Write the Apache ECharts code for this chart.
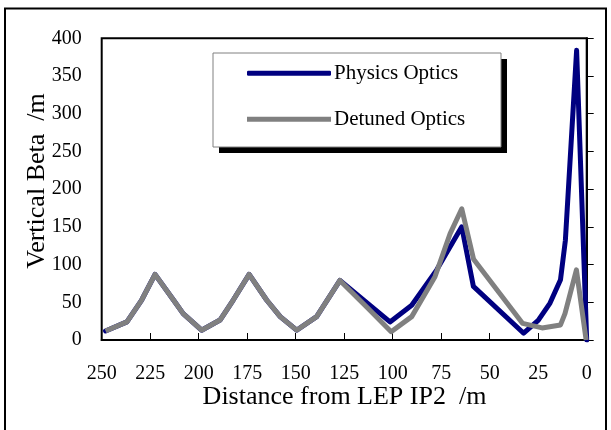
<!DOCTYPE html>
<html>
<head>
<meta charset="utf-8">
<script src="https://cdn.jsdelivr.net/npm/echarts@6/dist/echarts.min.js"></script>
<style>
html,body{margin:0;padding:0;background:#fff;}
#c{width:611px;height:430px;}
</style>
</head>
<body>
<div id="c"></div>
<script>
// Data
const seriesNames = ['Physics Optics', 'Detuned Optics'];
const physicsDist = [248, 237, 229.4, 222.5, 213, 208, 198.5, 189, 182.2, 174, 165, 158, 149.5, 139.2, 127.2, 101.4, 90.2, 77.3, 64.4, 58.4, 32.5, 25, 18.9, 13.5, 11, 5.2, 0];
const physicsBeta = [12, 24, 53, 87, 53, 35, 13, 26.5, 53, 87, 53, 31, 13, 31, 79, 24, 46, 93, 150, 71, 9, 26, 49, 80, 132, 384, 0];
const detunedDist = [248, 237, 229.4, 222.5, 213, 208, 198.5, 189, 182.2, 174, 165, 158, 149.5, 139.2, 127.2, 112, 100.8, 90.2, 78.2, 70.4, 64.4, 58.3, 33, 23, 13.5, 11.2, 5.3, 0.3];
const detunedBeta = [12, 24, 53, 87, 53, 35, 13, 26.5, 53, 87, 53, 31, 13, 31, 79, 40, 11, 31, 84, 141, 174, 107, 22, 16, 20, 35, 93, 0];
const xTicks = [0, 25, 50, 75, 100, 125, 150, 175, 200, 225, 250];
const yTicks = [0, 50, 100, 150, 200, 250, 300, 350, 400];

const serif = "'Liberation Serif', 'Times New Roman', 'DejaVu Serif', serif";
const pair = (xs, ys) => xs.map((x, i) => [x, ys[i]]);

const chart = echarts.init(document.getElementById('c'), null, {renderer: 'canvas'});
chart.setOption({
  animation: false,
  backgroundColor: '#fff',
  grid: {left: 101.7, right: 24.3, top: 38.3, bottom: 90, show: true, borderColor: '#000', borderWidth: 2, backgroundColor: 'transparent'},
  xAxis: {
    type: 'value', inverse: true,
    min: xTicks[0], max: xTicks[xTicks.length - 1], interval: 25,
    axisLine: {show: true, lineStyle: {color: '#000', width: 2}},
    axisTick: {show: true, inside: true, length: 7, lineStyle: {color: '#000', width: 1}},
    splitLine: {show: false},
    axisLabel: {margin: 24, color: '#000', fontSize: 20, fontFamily: serif}
  },
  yAxis: {
    type: 'value',
    min: yTicks[0], max: yTicks[yTicks.length - 1], interval: 50,
    axisLine: {show: true, lineStyle: {color: '#000', width: 2}},
    axisTick: {show: true, inside: true, length: 7, lineStyle: {color: '#000', width: 1}},
    splitLine: {show: false},
    axisLabel: {margin: 20, color: '#000', fontSize: 20, fontFamily: serif}
  },
  legend: {
    data: [{name: seriesNames[0], icon: 'roundRect'}, {name: seriesNames[1], icon: 'rect'}],
    orient: 'vertical',
    left: 247, top: 61.3,
    padding: 0,
    itemWidth: 84, itemHeight: 5, itemGap: 22,
    textStyle: {color: '#000', fontSize: 21, fontFamily: serif, lineHeight: 24, padding: [0, 0, 0, -2]},
    z: 10
  },
  graphic: [
    {type: 'rect', z: 1, shape: {x: 5, y: 8.5, width: 601, height: 440}, style: {fill: 'none', stroke: '#000', lineWidth: 2}},
    {type: 'rect', z: 5, shape: {x: 219, y: 59, width: 288, height: 94}, style: {fill: '#000'}},
    {type: 'rect', z: 6, shape: {x: 213, y: 53, width: 288, height: 94}, style: {fill: '#fff', stroke: '#808080', lineWidth: 1}},
    {type: 'text', z: 6, x: 37.5, y: 181, rotation: Math.PI / 2,
     style: {text: 'Vertical Beta  /m', fill: '#000', fontSize: 26, fontFamily: serif, textAlign: 'center', textVerticalAlign: 'middle'}},
    {type: 'text', z: 6, x: 344.5, y: 397,
     style: {text: 'Distance from LEP IP2  /m', fill: '#000', fontSize: 26, fontFamily: serif, textAlign: 'center', textVerticalAlign: 'middle'}}
  ],
  series: [
    {name: seriesNames[0], type: 'line', data: pair(physicsDist, physicsBeta), symbol: 'none', z: 2,
     lineStyle: {color: '#000080', width: 5, cap: 'round', join: 'round'}, itemStyle: {color: '#000080'}},
    {name: seriesNames[1], type: 'line', data: pair(detunedDist, detunedBeta), symbol: 'none', z: 3,
     lineStyle: {color: '#808080', width: 5, join: 'round'}, itemStyle: {color: '#808080'}}
  ]
});
</script>
</body>
</html>
